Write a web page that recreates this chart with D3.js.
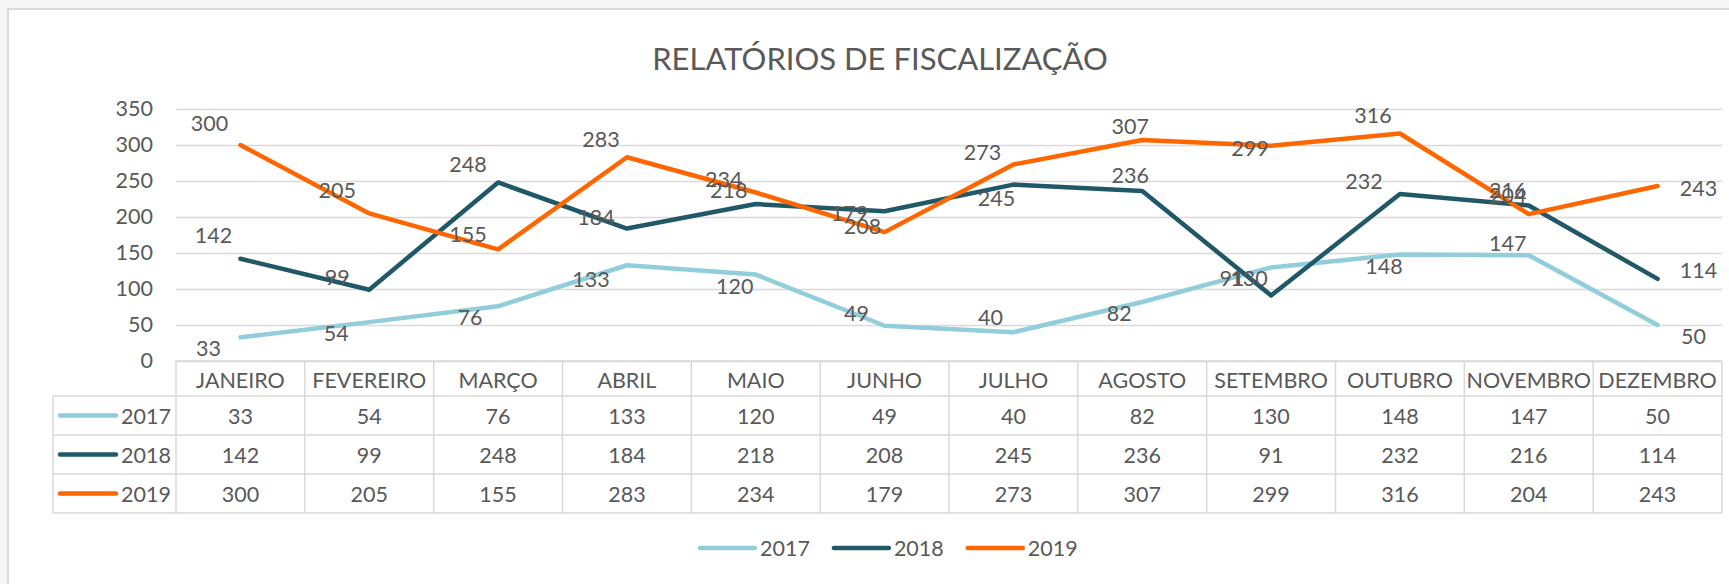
<!DOCTYPE html>
<html>
<head>
<meta charset="utf-8">
<script src="https://cdn.jsdelivr.net/npm/d3@7"></script>
<style>
  html, body { margin: 0; padding: 0; background: #f6f6f6; }
  svg { display: block; }
</style>
</head>
<body>
<div id="chart"></div>
<script>
const months = ["JANEIRO", "FEVEREIRO", "MARÇO", "ABRIL", "MAIO", "JUNHO",
    "JULHO", "AGOSTO", "SETEMBRO", "OUTUBRO", "NOVEMBRO", "DEZEMBRO"];
const years = ["2017", "2018", "2019"];
const v2017 = [33, 54, 76, 133, 120, 49, 40, 82, 130, 148, 147, 50];
const v2018 = [142, 99, 248, 184, 218, 208, 245, 236, 91, 232, 216, 114];
const v2019 = [300, 205, 155, 283, 234, 179, 273, 307, 299, 316, 204, 243];
const yTicks = [0, 50, 100, 150, 200, 250, 300, 350];

// data labels were dragged by hand in the original, so keep their nudges [dx, dy]
const nudge2017 = [[-32, 11], [-33, 11], [-28, 11], [-36, 14], [-21, 11], [-28, -13],
    [-23, -15], [-23, 11], [-22, 11], [-16, 12], [-21, -12], [36, 11]];
const nudge2018 = [[-27, -24], [-32, -13], [-30, -18], [-31, -12], [-27, -14], [-22, 15],
    [-17, 13], [-12, -16], [-39, -17], [-36, -13], [-21, -15], [41, -9]];
const nudge2019 = [[-31, -22], [-32, -23], [-30, -15], [-26, -18], [-32, -14], [-35, -19],
    [-31, -12], [-12, -14], [-21, 2], [-27, -18], [-21, -19], [41, 2]];

const colors = ["#92cddc", "#215867", "#ff6600"];
const series = years.map((y, i) => ({
    name: y,
    values: [v2017, v2018, v2019][i],
    nudge: [nudge2017, nudge2018, nudge2019][i],
    color: colors[i]
}));

const width = 1729, height = 584;
const plotLeft = 176, plotRight = 1722, plotTop = 109, plotBase = 361;
const textColor = "#595959", gridColor = "#d9d9d9";
const font = "Lato, 'Open Sans', sans-serif";

const svg = d3.select("#chart").append("svg")
    .attr("width", width)
    .attr("height", height)
    .style("font-family", font);

// chart area frame
svg.append("rect")
    .attr("x", 8).attr("y", 9)
    .attr("width", width + 20).attr("height", height + 20)
    .attr("fill", "#fff")
    .attr("stroke", gridColor)
    .attr("stroke-width", 2);

svg.append("text")
    .attr("x", 880).attr("y", 70)
    .attr("text-anchor", "middle")
    .attr("fill", textColor)
    .style("font-size", "31px")
    .text("RELATÓRIOS DE FISCALIZAÇÃO");

const x = d3.scaleBand().domain(months).range([plotLeft, plotRight]);
const y = d3.scaleLinear().domain([0, 350]).range([plotBase, plotTop]);

const yAxis = svg.append("g")
    .attr("transform", `translate(${plotLeft},0)`)
    .call(d3.axisLeft(y).tickValues(yTicks).tickSizeInner(-(plotRight - plotLeft)).tickSizeOuter(0).tickPadding(23));
yAxis.select(".domain").remove();
yAxis.selectAll(".tick line").attr("stroke", gridColor).attr("stroke-width", 1.5);
yAxis.selectAll(".tick text")
    .attr("fill", textColor)
    .style("font-size", "21.5px")
    .style("font-family", font);

const line = d3.line()
    .x((d, i) => x(months[i]) + x.bandwidth() / 2)
    .y(d => y(d));

svg.append("g").selectAll("path")
    .data(series)
    .join("path")
    .attr("d", s => line(s.values))
    .attr("fill", "none")
    .attr("stroke", s => s.color)
    .attr("stroke-width", 4.5)
    .attr("stroke-linejoin", "round")
    .attr("stroke-linecap", "round");

svg.append("g").selectAll("g")
    .data(series)
    .join("g")
    .selectAll("text")
    .data(s => s.values.map((v, i) => ({ v, i, n: s.nudge[i] })))
    .join("text")
    .attr("x", d => x(months[d.i]) + x.bandwidth() / 2 + d.n[0])
    .attr("y", d => y(d.v) + d.n[1])
    .attr("text-anchor", "middle")
    .attr("dominant-baseline", "central")
    .attr("fill", textColor)
    .style("font-size", "21.5px")
    .text(d => d.v);

// data table under the axis
const headerH = 35, rowH = 39, keyLeft = 53;
const table = svg.append("g");
const rowY = i => plotBase + headerH + i * rowH;

table.append("line")
    .attr("x1", plotLeft).attr("x2", plotRight)
    .attr("y1", plotBase).attr("y2", plotBase);
[0, 1, 2, 3].forEach(i => table.append("line")
    .attr("x1", keyLeft).attr("x2", plotRight)
    .attr("y1", rowY(i)).attr("y2", rowY(i)));
months.concat(["end"]).forEach((m, i) => {
    const xx = plotLeft + i * x.bandwidth();
    table.append("line")
        .attr("x1", xx).attr("x2", xx)
        .attr("y1", plotBase).attr("y2", rowY(3));
});
table.append("line")
    .attr("x1", keyLeft).attr("x2", keyLeft)
    .attr("y1", rowY(0)).attr("y2", rowY(3));
table.selectAll("line").attr("stroke", gridColor).attr("stroke-width", 1.5);

table.selectAll("text.head")
    .data(months)
    .join("text")
    .attr("class", "head")
    .attr("x", d => x(d) + x.bandwidth() / 2)
    .attr("y", plotBase + headerH / 2 + 1)
    .attr("text-anchor", "middle")
    .attr("dominant-baseline", "central")
    .attr("fill", textColor)
    .style("font-size", "21.5px")
    .text(d => d);

series.forEach((s, r) => {
    const cy = rowY(r) + rowH / 2;
    table.append("line")
        .attr("x1", 60).attr("x2", 116)
        .attr("y1", cy).attr("y2", cy)
        .attr("stroke", s.color)
        .attr("stroke-width", 4.5)
        .attr("stroke-linecap", "round");
    table.append("text")
        .attr("x", 121).attr("y", cy)
        .attr("dominant-baseline", "central")
        .attr("fill", textColor)
        .style("font-size", "21.5px")
        .text(s.name);
    table.selectAll(null)
        .data(s.values)
        .join("text")
        .attr("x", (d, i) => x(months[i]) + x.bandwidth() / 2)
        .attr("y", cy)
        .attr("text-anchor", "middle")
        .attr("dominant-baseline", "central")
        .attr("fill", textColor)
        .style("font-size", "21.5px")
        .text(d => d);
});

// legend at the bottom
const legend = svg.append("g").attr("transform", "translate(700,548)");
let lx = 0;
series.forEach(s => {
    const g = legend.append("g").attr("transform", `translate(${lx},0)`);
    g.append("line")
        .attr("x1", 0).attr("x2", 55)
        .attr("stroke", s.color)
        .attr("stroke-width", 4.5)
        .attr("stroke-linecap", "round");
    const t = g.append("text")
        .attr("x", 60)
        .attr("dominant-baseline", "central")
        .attr("fill", textColor)
        .style("font-size", "21.5px")
        .text(s.name);
    lx += 60 + t.node().getComputedTextLength() + 24;
});
</script>
</body>
</html>
